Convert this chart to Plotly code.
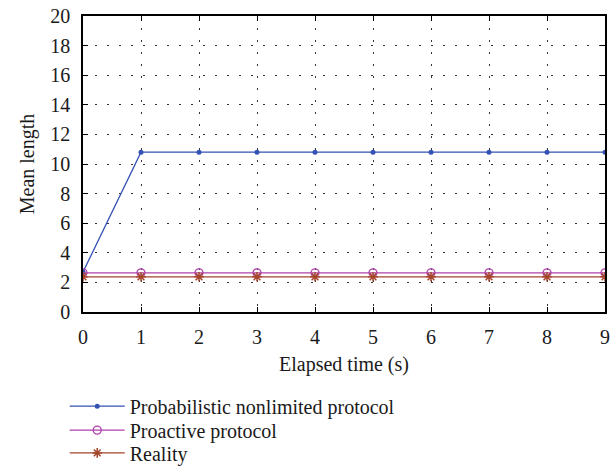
import plotly.graph_objects as go

elapsed = [0, 1, 2, 3, 4, 5, 6, 7, 8, 9]
probabilistic = [2.7, 10.8, 10.8, 10.8, 10.8, 10.8, 10.8, 10.8, 10.8, 10.8]
proactive = [2.65, 2.65, 2.65, 2.65, 2.65, 2.65, 2.65, 2.65, 2.65, 2.65]
reality = [2.38, 2.38, 2.38, 2.38, 2.38, 2.38, 2.38, 2.38, 2.38, 2.38]

blue = "#3452b4"
magenta = "#b040ac"
brown = "#a5452c"
font_family = "Liberation Serif, serif"
text_color = "#1a1a1a"

fig = go.Figure()
fig.add_trace(go.Scatter(x=elapsed, y=probabilistic, mode="lines+markers",
                         name="Probabilistic nonlimited protocol", legend="legend",
                         line=dict(color=blue, width=1.3),
                         marker=dict(symbol="circle", size=5, color=blue)))
fig.add_trace(go.Scatter(x=elapsed, y=proactive, mode="lines+markers",
                         name="Proactive protocol", legend="legend2",
                         line=dict(color=magenta, width=1.3),
                         marker=dict(symbol="circle-open", size=8, color=magenta,
                                     line=dict(width=1.3, color=magenta))))
fig.add_trace(go.Scatter(x=elapsed, y=reality, mode="lines+markers",
                         name="Reality", legend="legend3",
                         line=dict(color=brown, width=1.3),
                         marker=dict(symbol="asterisk-open", size=8, color=brown,
                                     line=dict(width=1.5, color=brown))))

axis_common = dict(
    showline=True, linecolor="black", linewidth=1.6, mirror="ticks",
    ticks="inside", ticklen=5, tickcolor="black", tickwidth=1,
    showgrid=True, gridcolor="#333", griddash="1.5px,10.5px", gridwidth=1.2,
    zeroline=False,
    tickfont=dict(family=font_family, size=20, color=text_color),
)

fig.update_xaxes(range=[0, 9], tickmode="array", tickvals=elapsed,
                 ticklabelstandoff=6,
                 title=dict(text="Elapsed time (s)", standoff=10,
                            font=dict(family=font_family, size=20, color=text_color)),
                 **axis_common)
fig.update_yaxes(range=[0, 20], tickmode="array", tickvals=list(range(0, 21, 2)),
                 ticklabelstandoff=7,
                 title=dict(text="Mean length", standoff=10,
                            font=dict(family=font_family, size=20, color=text_color)),
                 **axis_common)

legend_style = dict(xanchor="left", yanchor="middle", x=-0.035,
                    font=dict(family=font_family, size=20, color=text_color),
                    bgcolor="rgba(0,0,0,0)", itemwidth=55)

fig.update_layout(
    width=613, height=474,
    margin=dict(l=83, r=8, t=16, b=162, autoexpand=False),
    paper_bgcolor="white", plot_bgcolor="white",
    font=dict(family=font_family, size=20, color=text_color),
    showlegend=True,
    legend=dict(y=-0.318, **legend_style),
    legend2=dict(y=-0.399, **legend_style),
    legend3=dict(y=-0.476, **legend_style),
)

fig.write_html("out.html")
